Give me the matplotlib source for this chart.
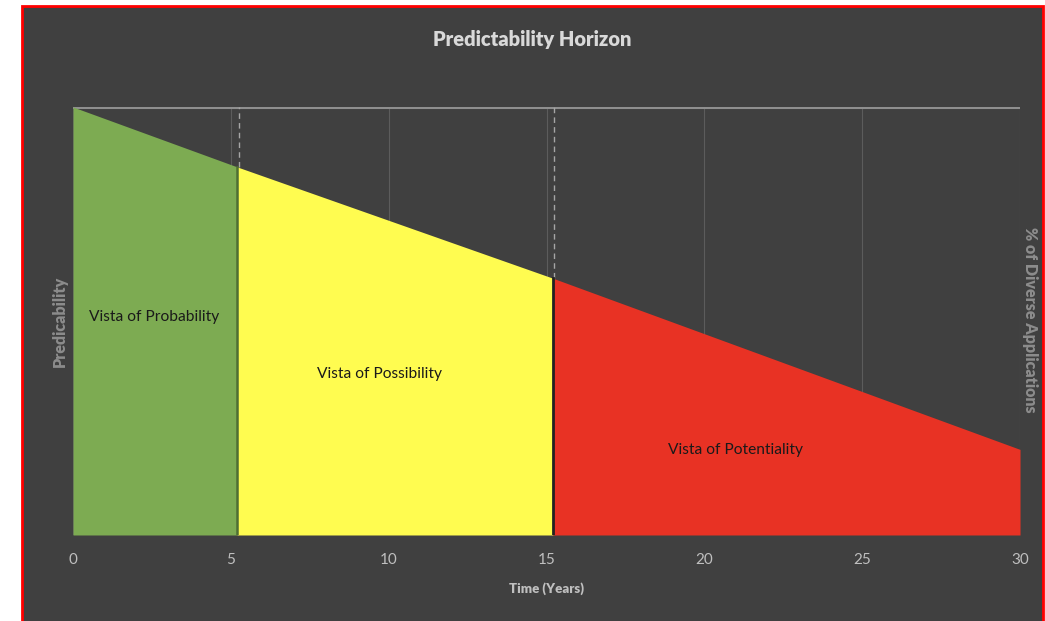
import numpy as np
import matplotlib.pyplot as plt
from matplotlib.patches import Rectangle

# dados
anos = [0, 5.2, 15.2, 30]
previsibilidade = [100, 86, 60, 20]
zonas = ['Vista of Probability', 'Vista of Possibility', 'Vista of Potentiality']
cores = ['#7dab52', '#fffc50', '#e83224']
pos_rotulos = [(2.57, 51), (9.7, 37.5), (21.0, 19.8)]
ticks_x = [0, 5, 10, 15, 20, 25, 30]

plt.rcParams['font.family'] = ['Lato', 'DejaVu Sans']

fig = plt.figure(figsize=(10.45, 6.21), dpi=100)
fig.patch.set_facecolor('white')

# painel escuro com borda vermelha
painel = Rectangle((0.021, -0.05), 0.977, 1.04, transform=fig.transFigure,
                   facecolor='#404040', edgecolor='#ff0000', lw=2, zorder=-10)
fig.patches.append(painel)

ax = fig.add_axes([0.0699, 0.1385, 0.9062, 0.6892])
ax.set_facecolor('none')

# grade vertical
for t in ticks_x:
    ax.axvline(t, color='#5c5c5c', lw=0.8, zorder=0)
ax.axhline(100, color='#8f8f8f', lw=2.2, zorder=1)

# areas de cada zona
for i in range(3):
    x0, x1 = anos[i], anos[i + 1]
    y0, y1 = previsibilidade[i], previsibilidade[i + 1]
    ax.fill_between([x0, x1], [y0, y1], 0, color=cores[i], lw=0, zorder=2)
    ax.text(pos_rotulos[i][0], pos_rotulos[i][1], zonas[i], ha='center', va='center',
            fontsize=11.2, color='#1a1a1a', zorder=5)

# linhas divisorias
ax.plot([anos[1], anos[1]], [0, previsibilidade[1]], color='#4f6e33', lw=1.8, zorder=3)
ax.plot([anos[2], anos[2]], [0, previsibilidade[2]], color='#222222', lw=2, zorder=3)
for i in (1, 2):
    ax.plot([anos[i] + 0.05, anos[i] + 0.05], [previsibilidade[i], 100], color='#a6a6a6',
            lw=1, ls=(0, (4, 3)), zorder=1)

ax.set_xlim(0, 30)
ax.set_ylim(0, 100)
ax.set_xticks(ticks_x)
ax.set_yticks([])
ax.tick_params(axis='x', length=0, pad=13, labelsize=11, labelcolor='#bfbfbf')
for s in ax.spines.values():
    s.set_visible(False)

ax.set_xlabel('Time (Years)', fontsize=9.5, fontweight='heavy', color='#bfbfbf', labelpad=11)
ax.set_ylabel('Predicability', fontsize=11.5, fontweight='heavy', color='#8c8c8c', labelpad=4)

fig.text(0.986, 0.485, '% of Diverse Applications', rotation=-90, ha='center', va='center',
         fontsize=11.5, fontweight='heavy', color='#8c8c8c')
fig.text(0.509, 0.937, 'Predictability Horizon', ha='center', va='center',
         fontsize=14.5, fontweight='heavy', color='#d9d9d9')

plt.savefig('out.png', dpi=100, facecolor=fig.get_facecolor())
